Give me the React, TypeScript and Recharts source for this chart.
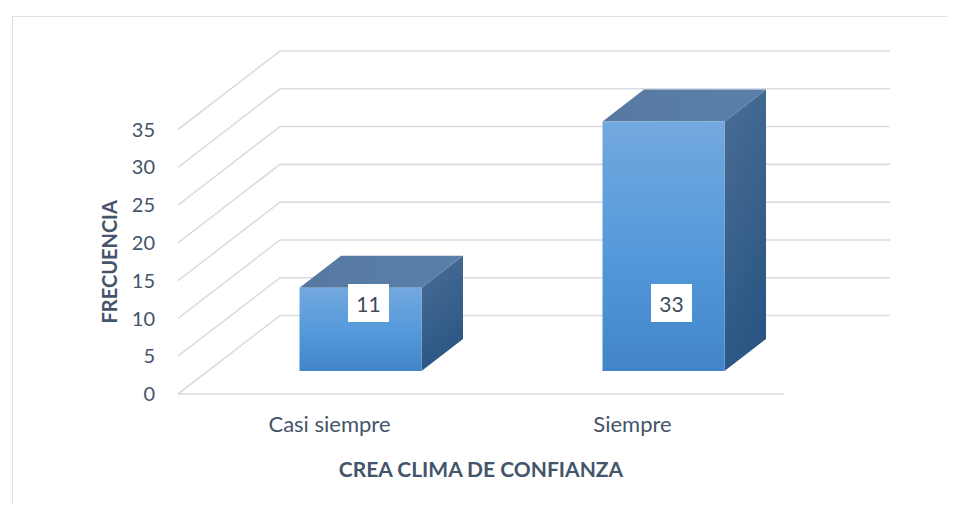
import React from "react";
import { ComposedChart, Bar, XAxis, YAxis, CartesianGrid, LabelList, Label } from "recharts";

const categories = ["Casi siempre", "Siempre"];
const frecuencia = [11, 33];
const yTicks = [0, 5, 10, 15, 20, 25, 30, 35];
const xTitle = "CREA CLIMA DE CONFIANZA";
const yTitle = "FRECUENCIA";

const data = categories.map((c, i) => ({ name: c, value: frecuencia[i] }));

const W = 947;
const H = 497;
const MARGIN = { top: 121.5, right: 171, bottom: 0, left: 0 };
const X_AXIS_H = 111;
const Y_AXIS_W = 170;

// depth vector of the 3D floor
const DEPTH_X = 102;
const DEPTH_Y = -78.5;
// bar front face position inside the depth
const BAR_SHIFT_X = 30.5;
const BAR_SHIFT_Y = -23;
// bar depth
const BAR_DX = 41.5;
const BAR_DY = -32;

const FONT = "Lato, 'Open Sans', sans-serif";
const TEXT = "#44546A";
const GRID = "#D9DDE3";

const GridLine = (props: any) => {
  const { x1, y1, x2 } = props;
  const bx = x1 + DEPTH_X;
  const by = y1 + DEPTH_Y;
  return (
    <polyline
      points={`${x1},${y1} ${bx},${by} ${x2 + DEPTH_X + 4},${by}`}
      fill="none"
      stroke={GRID}
      strokeWidth={1.6}
    />
  );
};

const Bar3D = (props: any) => {
  const { x, y, width, height, index } = props;
  if (height == null || height <= 0) return null;
  const fx = x + BAR_SHIFT_X;
  const fy = y + BAR_SHIFT_Y;
  const w = width;
  const h = height;
  const id = `b${index}`;
  return (
    <g>
      <defs>
        <linearGradient id={`${id}front`} x1="0" y1="0" x2="0" y2="1">
          <stop offset="0%" stopColor="#73A8DF" />
          <stop offset="55%" stopColor="#5399DA" />
          <stop offset="100%" stopColor="#4185C8" />
        </linearGradient>
        <linearGradient id={`${id}side`} x1="0" y1="0" x2="0.3" y2="1">
          <stop offset="0%" stopColor="#4A6E97" />
          <stop offset="100%" stopColor="#2B5683" />
        </linearGradient>
        <linearGradient id={`${id}top`} x1="0" y1="0" x2="1" y2="0">
          <stop offset="0%" stopColor="#5679A2" />
          <stop offset="100%" stopColor="#5A80AA" />
        </linearGradient>
      </defs>
      <polygon
        points={`${fx + w},${fy} ${fx + w + BAR_DX},${fy + BAR_DY} ${fx + w + BAR_DX},${fy + h + BAR_DY} ${fx + w},${fy + h}`}
        fill={`url(#${id}side)`}
      />
      <polygon
        points={`${fx},${fy} ${fx + BAR_DX},${fy + BAR_DY} ${fx + w + BAR_DX},${fy + BAR_DY} ${fx + w},${fy}`}
        fill={`url(#${id}top)`}
      />
      <rect x={fx} y={fy} width={w} height={h} fill={`url(#${id}front)`} />
    </g>
  );
};

const ValueLabel = (props: any) => {
  const { x, y, width, height, value } = props;
  const cx = x + BAR_SHIFT_X + width / 2 + 8;
  const cy = y + height + BAR_SHIFT_Y - 68;
  const bw = 41;
  const bh = 38;
  return (
    <g>
      <rect x={cx - bw / 2} y={cy - bh / 2} width={bw} height={bh} fill="#FFFFFF" />
      <text
        x={cx}
        y={cy}
        textAnchor="middle"
        dominantBaseline="central"
        fontFamily={FONT}
        fontSize={21}
        fill="#404A58"
      >
        {value}
      </text>
    </g>
  );
};

const XTitle = (props: any) => {
  const vb = props.viewBox || {};
  return (
    <text
      x={vb.x + vb.width / 2}
      y={vb.y + 74}
      textAnchor="middle"
      dominantBaseline="central"
      fontFamily={FONT}
      fontWeight={700}
      fontSize={21}
      fill={TEXT}
    >
      {xTitle}
    </text>
  );
};

const YTitle = (props: any) => {
  const vb = props.viewBox || {};
  const cx = vb.x + 101;
  const cy = vb.y + vb.height / 2;
  return (
    <text
      x={cx}
      y={cy}
      transform={`rotate(-90 ${cx} ${cy})`}
      textAnchor="middle"
      dominantBaseline="central"
      fontFamily={FONT}
      fontWeight={700}
      fontSize={20}
      fill={TEXT}
    >
      {yTitle}
    </text>
  );
};

export default function App() {
  return (
    <div style={{ position: "relative", width: W, height: H }}>
      <div
        style={{
          position: "absolute",
          left: 3.5,
          top: 8,
          width: W - 3.5,
          height: H - 8,
          borderTop: "1.5px solid #DCE1E7",
          borderLeft: "1.5px solid #DCE1E7",
          boxSizing: "border-box",
        }}
      />
      <ComposedChart
        width={W}
        height={H}
        data={data}
        margin={MARGIN}
        style={{ position: "absolute", left: 0, top: 0 }}
      >
        <CartesianGrid vertical={false} horizontal={GridLine} />
        <XAxis
          dataKey="name"
          height={X_AXIS_H}
          axisLine={{ stroke: GRID, strokeWidth: 1.6 }}
          tickLine={false}
          tickMargin={16}
          tick={{ fill: TEXT, fontSize: 22, fontFamily: FONT }}
          label={<Label content={XTitle} />}
        />
        <YAxis
          width={Y_AXIS_W}
          domain={[0, 35]}
          ticks={yTicks}
          axisLine={false}
          tickLine={false}
          tickMargin={17}
          tick={{ fill: TEXT, fontSize: 20, fontFamily: FONT }}
          label={<Label content={YTitle} />}
        />
        <Bar dataKey="value" barSize={122} shape={Bar3D} isAnimationActive={false}>
          <LabelList dataKey="value" content={ValueLabel} />
        </Bar>
      </ComposedChart>
    </div>
  );
}
